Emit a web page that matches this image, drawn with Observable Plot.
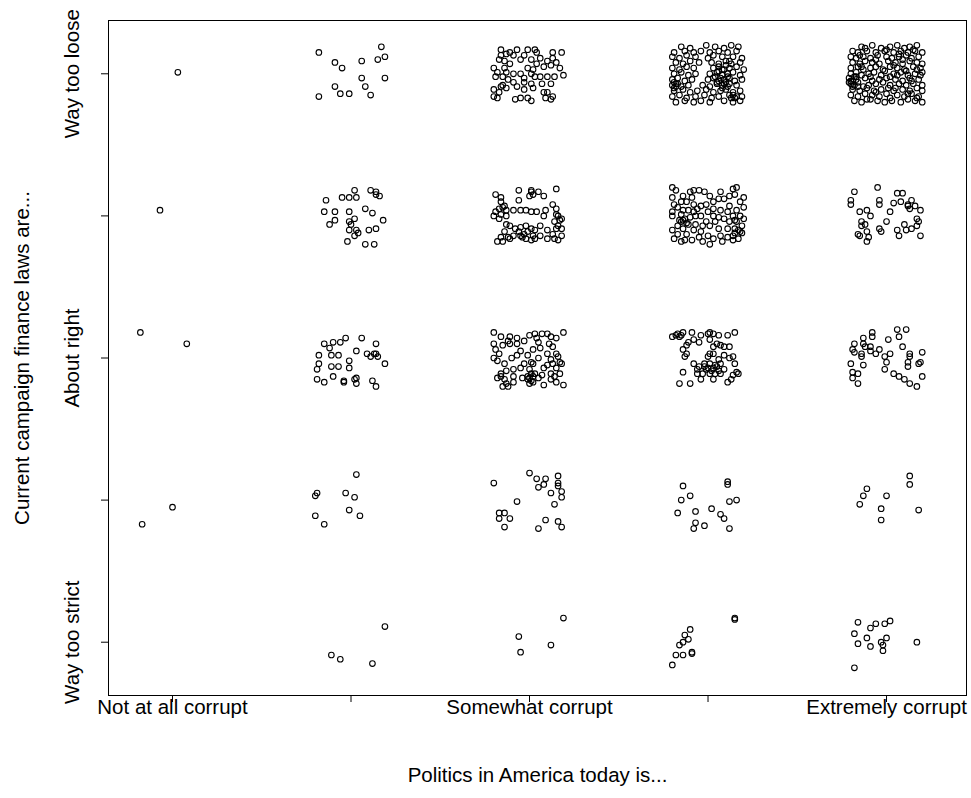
<!DOCTYPE html>
<html><head><meta charset="utf-8">
<script src="https://cdn.jsdelivr.net/npm/d3@7"></script>
<script src="https://cdn.jsdelivr.net/npm/@observablehq/plot@0.6"></script>
<style>body{margin:0;background:#fff;}</style>
</head><body><div id="chart"></div>
<script>
// Categories
const xValues = [1, 2, 3, 4, 5];
const xTickLabels = ["Not at all corrupt", "", "Somewhat corrupt", "", "Extremely corrupt"];
const yValues = [1, 2, 3, 4, 5];
const yTickLabels = ["Way too strict", "", "About right", "", "Way too loose"];
const xTitle = "Politics in America today is...";
const yTitle = "Current campaign finance laws are...";

// Jittered responses: [x jitter, y jitter] in hundredths of a unit, per cell (row = y value, col = x value)
const r5c1 = [[3,1]];
const r5c2 = [[-18,15],[-9,8],[-5,4],[6,9],[17,19],[15,10],[19,12],[6,-3],[19,-3],[-9,-9],[8,-9],[-6,-14],[-1,-14],[11,-15],[-18,-16]];
const r5c3 = [[-16,17],[-11,15],[-7,17],[-1,17],[3,17],[-16,13],[-13,14],[-9,13],[-3,13],[6,11],[10,9],[13,15],[13,11],[-17,10],[-14,9],[1,10],[4,7],[8,5],[12,6],[15,8],[-20,4],[-18,1],[-19,-2],[-15,-2],[-13,1],[-9,0],[-5,0],[-3,-3],[1,0],[2,3],[3,-2],[6,-2],[10,-2],[14,-2],[19,-1],[-12,-4],[-9,-6],[-3,-6],[1,-7],[7,-7],[12,-7],[-16,-9],[-13,-10],[-20,-11],[-17,-13],[2,-10],[10,-13],[-20,-16],[-18,-17],[-3,-11],[-8,-18],[-5,-17],[-1,-17],[1,-19],[9,-17],[12,-18],[-15,-8],[8,-13],[13,-16],[-5,10],[-11,7],[-7,-9],[17,4],[18,15],[4,15],[-1,4],[-14,4]];
const r5c4 = [[-15,19],[-10,18],[-1,20],[4,19],[9,18],[13,20],[17,19],[-19,15],[-13,16],[-8,15],[-4,16],[1,15],[6,16],[11,15],[16,16],[-20,12],[-16,11],[-12,13],[-7,12],[0,11],[3,13],[8,12],[14,12],[19,11],[-18,8],[-14,7],[-10,9],[-5,8],[2,8],[6,7],[10,9],[13,7],[18,8],[-20,4],[-16,3],[-12,5],[-8,4],[3,4],[6,5],[9,3],[12,4],[16,5],[20,3],[-19,0],[-15,1],[-11,-1],[-7,0],[1,0],[5,1],[8,-1],[11,0],[14,1],[18,-1],[-20,-4],[-17,-3],[-13,-5],[-9,-4],[0,-4],[3,-3],[6,-5],[9,-4],[12,-3],[15,-5],[19,-4],[-20,-8],[-18,-7],[-15,-9],[-11,-8],[-3,-8],[1,-9],[5,-7],[8,-8],[11,-9],[16,-8],[-19,-12],[-14,-11],[-10,-13],[-6,-12],[-1,-11],[3,-13],[7,-12],[10,-11],[14,-13],[18,-12],[-20,-16],[-16,-15],[-12,-17],[-7,-16],[-2,-15],[2,-17],[6,-16],[12,-15],[15,-17],[19,-16],[-18,-20],[-13,-19],[-8,-20],[-4,-19],[1,-20],[9,-19],[14,-20],[18,-19],[-19,-6],[-18,-9],[-17,-7],[-19,-10],[4,-2],[5,-6],[7,-3],[9,-7],[10,-6],[8,-10],[11,-2],[12,-7],[6,2],[8,3],[10,6],[12,9],[13,-17],[16,-16],[14,-15]];
const r5c5 = [[-14,19],[-8,20],[-3,18],[2,19],[6,20],[10,18],[13,19],[17,20],[-19,16],[-16,15],[-11,16],[-6,15],[-1,16],[4,15],[8,16],[12,15],[16,16],[20,15],[-20,12],[-17,11],[-13,12],[-9,11],[-5,13],[0,12],[3,11],[7,12],[11,13],[14,11],[18,12],[-19,8],[-15,7],[-12,9],[-8,8],[-4,7],[1,9],[5,8],[9,7],[13,9],[17,8],[20,7],[-20,4],[-16,5],[-13,3],[-9,4],[-6,5],[-2,3],[2,5],[6,4],[10,3],[15,5],[19,4],[-20,0],[-17,1],[-14,-1],[-10,0],[-7,1],[-3,-1],[4,0],[8,1],[12,-1],[16,0],[20,1],[-21,-3],[-19,-5],[-17,-4],[-12,-3],[-8,-5],[-4,-4],[0,-3],[5,-4],[9,-5],[13,-3],[18,-4],[-20,-7],[-18,-8],[-16,-6],[-10,-8],[-6,-7],[2,-8],[7,-7],[11,-8],[15,-7],[20,-8],[-19,-11],[-15,-12],[-11,-10],[-7,-12],[-3,-11],[1,-10],[4,-12],[9,-11],[13,-12],[17,-10],[20,-12],[-20,-15],[-16,-16],[-12,-14],[-8,-15],[-4,-16],[0,-14],[6,-15],[10,-16],[14,-14],[18,-16],[-18,-19],[-14,-20],[-9,-18],[-5,-19],[-1,-20],[3,-19],[8,-20],[12,-18],[16,-19],[20,-20],[-20,-5],[-18,-2],[-21,-6],[-19,-9],[-17,-2],[-16,-9],[-12,18],[0,17],[15,17],[-6,10],[9,10],[-14,5],[4,6],[-1,2],[11,2],[17,3],[-9,-2],[2,-2],[14,-5],[-13,-9],[5,-10],[-6,-13],[12,-14],[2,-17],[-11,-18],[17,-17],[19,-1],[-2,-6],[6,-1],[-15,13],[7,14]];

const r4c1 = [[-7,4]];
const r4c2 = [[-14,11],[-5,13],[-1,13],[3,13],[2,18],[11,18],[14,17],[14,15],[16,14],[-15,3],[-9,3],[-1,3],[8,5],[12,2],[2,-2],[0,-6],[18,-3],[-12,-6],[-9,-3],[-1,-10],[3,-10],[4,-12],[2,-14],[10,-10],[14,-9],[-2,-18],[8,-20],[13,-20],[-1,-4]];
const r4c3 = [[-19,15],[-6,18],[1,17],[0,14],[2,15],[5,17],[8,14],[15,19],[-6,11],[-16,10],[-14,7],[-19,3],[-16,1],[-13,4],[-13,0],[-9,4],[-5,4],[-2,4],[1,3],[4,3],[9,4],[8,0],[13,8],[15,5],[16,0],[17,-3],[16,-7],[18,-9],[15,-9],[18,-2],[-17,-2],[-20,0],[-13,-6],[-11,-7],[-8,-9],[-5,-8],[-2,-7],[1,-9],[3,-10],[6,-7],[10,-10],[13,-13],[-14,-11],[-12,-15],[-9,-14],[-16,-15],[-18,-18],[-15,-18],[-11,-16],[-5,-14],[-2,-16],[1,-17],[3,-16],[6,-14],[10,-16],[14,-16],[16,-17],[18,-14],[-3,-13],[-1,-11],[-16,13],[1,18],[-17,5],[-15,6],[15,1],[14,-4],[-6,-11],[-4,-15],[2,-14]];
const r4c4 = [[-20,20],[-18,18],[-20,13],[-19,8],[-15,10],[-20,3],[-20,0],[-16,-3],[-17,-7],[-20,-10],[-17,-13],[-19,-16],[-15,-18],[-13,-17],[-10,17],[-8,18],[-5,18],[-2,17],[-9,13],[-12,10],[-8,8],[-6,5],[-4,7],[-1,8],[1,14],[6,12],[9,12],[12,14],[14,19],[16,20],[15,15],[20,13],[18,10],[20,6],[16,4],[12,7],[11,3],[14,0],[18,0],[15,-3],[12,-4],[9,-2],[6,-1],[3,0],[0,3],[-4,0],[-10,-1],[-13,-2],[-15,-4],[-11,-6],[-7,-6],[-3,-7],[1,-7],[6,-9],[11,-9],[15,-9],[19,-7],[18,-11],[14,-14],[11,-15],[7,-14],[3,-16],[0,-14],[-4,-11],[-8,-10],[-12,-13],[-14,-9],[-9,-17],[-3,-18],[1,-20],[8,-18],[14,-17],[17,-16],[-1,-4],[3,5],[7,4],[-15,1],[-17,6],[-14,4],[-11,4],[4,-4],[16,-4],[20,-2],[-7,0],[-5,-15],[-14,14],[7,17],[3,10],[-8,3],[-12,-5],[-14,-3],[17,-10],[19,-12],[15,-12]];
const r4c5 = [[-18,17],[-5,20],[6,16],[9,16],[-20,11],[-20,8],[-4,11],[-4,8],[4,9],[8,10],[12,8],[14,11],[16,7],[13,5],[19,4],[-15,3],[-11,4],[-9,0],[2,3],[-14,-4],[-12,-6],[0,-4],[-4,-9],[-3,-11],[-16,-13],[-15,-14],[-11,-11],[-10,-15],[-11,-18],[6,-10],[7,-14],[10,-6],[11,-10],[14,-9],[17,-7],[17,-2],[19,-14],[-14,-7],[18,-4],[12,7]];

const r3c1 = [[-18,18],[8,10]];
const r3c2 = [[-15,10],[-12,7],[-10,11],[-6,11],[-3,14],[6,14],[14,10],[-18,2],[-11,2],[-7,2],[3,5],[9,3],[11,1],[14,3],[15,1],[-1,-2],[19,-4],[-18,-4],[-19,-8],[-11,-6],[-7,-6],[-1,-7],[-19,-15],[-15,-17],[-10,-13],[-4,-16],[-4,-17],[2,-15],[3,-18],[12,-16],[14,-20],[3,-14],[13,3]];
const r3c3 = [[-20,18],[-16,15],[-11,15],[-7,14],[-3,12],[0,16],[3,17],[7,17],[10,17],[12,15],[15,14],[19,18],[-20,10],[-15,9],[-11,10],[-7,10],[5,11],[11,10],[13,8],[-19,6],[-17,3],[-20,0],[-14,-4],[-10,0],[-7,2],[-1,2],[2,6],[6,7],[5,0],[10,3],[15,3],[17,-3],[18,-4],[13,-4],[10,-5],[1,-3],[2,-4],[-3,-4],[-9,-8],[-5,-7],[0,-8],[1,-11],[8,-7],[12,-11],[17,-11],[-18,-14],[-16,-13],[-14,-15],[-13,-18],[-9,-17],[-4,-14],[-1,-15],[0,-18],[2,-17],[5,-14],[8,-19],[12,-15],[15,-17],[19,-19],[-15,-20],[-12,-20],[-16,-11],[-9,-13],[3,-11],[15,-7],[-1,-13],[1,-16],[0,-14],[2,-13],[-18,-2],[-12,12],[4,14],[-5,5],[12,-1],[16,1],[-13,-9],[7,-12],[14,-13]];
const r3c4 = [[-20,15],[-17,17],[-15,16],[-14,18],[-9,18],[-4,16],[0,17],[1,18],[3,17],[6,16],[11,16],[15,18],[-11,11],[-8,13],[-5,11],[-12,9],[-14,6],[-13,1],[-12,3],[1,13],[3,8],[5,10],[7,9],[9,8],[12,8],[3,3],[0,1],[1,3],[9,2],[14,1],[15,-4],[-8,-4],[-5,-6],[-3,-11],[-2,-4],[1,-4],[3,-7],[5,-6],[7,-4],[9,-8],[1,-11],[-14,-10],[-6,-11],[16,-10],[17,-11],[14,-12],[13,-15],[11,-17],[7,-11],[-16,-18],[-10,-18],[-4,-15],[3,-15],[6,-1],[12,0],[-6,-8],[-1,-8],[4,-11],[-18,16],[-16,15],[-2,-6],[2,-9],[4,-5],[6,-9],[0,-7]];
const r3c5 = [[-8,18],[-8,15],[-13,14],[6,20],[11,20],[7,15],[1,13],[-18,10],[-19,6],[-18,4],[-13,10],[-12,8],[-9,8],[-9,5],[-14,3],[-14,1],[-6,3],[-4,6],[2,3],[-1,1],[0,-3],[9,8],[13,3],[13,1],[12,-3],[12,-6],[18,-4],[19,-3],[20,4],[-20,-4],[-13,-5],[-19,-10],[-16,-11],[-19,-14],[-16,-18],[-1,-8],[4,-11],[7,-13],[10,-15],[13,-18],[17,-20],[20,-13]];

const r2c1 = [[0,-5],[-17,-17]];
const r2c2 = [[3,18],[-20,3],[-19,5],[-3,5],[2,2],[-1,-7],[5,-11],[-20,-11],[-15,-17]];
const r2c3 = [[0,19],[4,15],[9,15],[8,11],[5,9],[16,17],[16,12],[16,10],[18,6],[12,5],[18,2],[14,-3],[-20,12],[-7,-1],[-17,-9],[-14,-9],[-17,-13],[-11,-13],[-14,-19],[9,-14],[5,-20],[16,-15],[18,-19]];
const r2c4 = [[-14,10],[11,13],[11,11],[-15,0],[-10,3],[12,-1],[16,0],[-17,-9],[-7,-8],[2,-6],[7,-10],[9,-13],[-7,-16],[-2,-18],[-8,-20],[12,-20]];
const r2c5 = [[13,17],[13,11],[-11,8],[-13,3],[0,3],[-15,-3],[-3,-6],[-3,-14],[18,-7]];

const r1c1 = [];
const r1c2 = [[19,11],[-11,-9],[-6,-12],[12,-15]];
const r1c3 = [[19,17],[-6,4],[-5,-7],[12,-2]];
const r1c4 = [[15,17],[15,16],[-10,9],[-13,5],[-11,2],[-14,0],[-16,-2],[-18,-9],[-14,-9],[-9,-7],[-9,-8],[-20,-16]];
const r1c5 = [[-16,14],[-6,13],[-1,13],[2,15],[-9,10],[-18,6],[-11,3],[0,3],[-16,-1],[-9,-3],[-3,0],[-2,-2],[-2,-6],[17,0],[-18,-18]];

const cells = [
  [5,1,r5c1],[5,2,r5c2],[5,3,r5c3],[5,4,r5c4],[5,5,r5c5],
  [4,1,r4c1],[4,2,r4c2],[4,3,r4c3],[4,4,r4c4],[4,5,r4c5],
  [3,1,r3c1],[3,2,r3c2],[3,3,r3c3],[3,4,r3c4],[3,5,r3c5],
  [2,1,r2c1],[2,2,r2c2],[2,3,r2c3],[2,4,r2c4],[2,5,r2c5],
  [1,1,r1c1],[1,2,r1c2],[1,3,r1c3],[1,4,r1c4],[1,5,r1c5]
];
const points = [];
for (const [yv, xv, list] of cells) {
  for (const [jx, jy] of list) points.push({x: xv + jx / 100, y: yv + jy / 100});
}

const font = "'Liberation Sans', Arial, Helvetica, sans-serif";
const fs = 20.5;
const chart = Plot.plot({
  width: 971,
  height: 798,
  marginTop: 20,
  marginBottom: 103,
  marginLeft: 108,
  marginRight: 5,
  style: {fontFamily: font, fontSize: fs + "px", background: "white", color: "black", overflow: "visible"},
  x: {domain: [0.6415, 5.448], axis: null},
  y: {domain: [0.625, 5.375], axis: null},
  marks: [
    Plot.frame({stroke: "black", strokeWidth: 1}),
    Plot.axisX({ticks: xValues, tickSize: 7, tickFormat: () => "", label: null, stroke: "black"}),
    Plot.axisY({ticks: yValues, tickSize: 7, tickFormat: () => "", label: null, stroke: "black"}),
    Plot.text(xValues, {x: d => d, text: d => xTickLabels[xValues.indexOf(d)], frameAnchor: "bottom", dy: 12, lineAnchor: "middle", fontSize: fs, fill: "black"}),
    Plot.text(yValues, {y: d => d, text: d => yTickLabels[yValues.indexOf(d)], frameAnchor: "left", dx: -36, rotate: -90, textAnchor: "middle", lineAnchor: "middle", fontSize: fs, fill: "black"}),
    Plot.text([xTitle], {text: d => d, frameAnchor: "bottom", dy: 80, lineAnchor: "middle", fontSize: fs, fill: "black"}),
    Plot.text([yTitle], {text: d => d, frameAnchor: "left", dx: -86, rotate: -90, textAnchor: "middle", lineAnchor: "middle", fontSize: fs, fill: "black"}),
    Plot.dot(points, {x: "x", y: "y", r: 2.8, stroke: "black", strokeWidth: 1.1, fill: "none"})
  ]
});
document.getElementById("chart").appendChild(chart);
</script>
</body></html>
